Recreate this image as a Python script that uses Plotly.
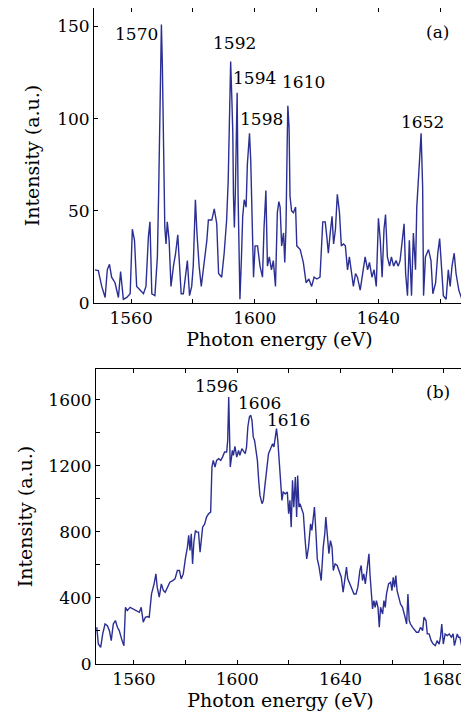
import plotly.graph_objects as go
from plotly.subplots import make_subplots

# ---------------- Panel (a) ----------------
energy_a = [1548.3, 1549.4, 1550.5, 1551.6, 1552.3, 1553.0, 1553.7, 1554.8, 1555.9, 1556.6,
            1557.5, 1558.6, 1559.7, 1560.4, 1561.1, 1561.8, 1562.9, 1564.0, 1564.8, 1565.6,
            1566.1, 1566.7, 1567.7, 1568.5, 1568.9, 1569.4, 1569.8, 1570.1, 1570.4, 1570.9,
            1571.3, 1571.7, 1572.3, 1572.9, 1573.7, 1574.4, 1575.1, 1575.6, 1576.2, 1576.9,
            1577.6, 1578.2, 1578.9, 1579.6, 1580.1, 1580.8, 1581.3, 1582.0, 1582.7, 1583.6,
            1584.5, 1585.0, 1586.1, 1586.9, 1587.7, 1588.3, 1589.3, 1590.1, 1590.9, 1591.4,
            1591.8, 1592.0, 1592.2, 1592.6, 1592.9, 1593.1, 1593.4, 1593.7, 1594.1, 1594.3,
            1594.6, 1594.9, 1595.2, 1595.7, 1596.1, 1596.6, 1597.2, 1597.6, 1597.9, 1598.3,
            1598.7, 1599.1, 1599.6, 1600.1, 1600.9, 1601.7, 1602.5, 1603.0, 1603.6, 1604.1,
            1604.7, 1605.4, 1606.0, 1606.7, 1607.3, 1607.8, 1608.2, 1608.7, 1609.3, 1609.7,
            1610.1, 1610.5, 1610.7, 1611.1, 1611.4, 1611.9, 1612.5, 1613.2, 1613.6, 1614.7,
            1615.7, 1616.6, 1617.5, 1618.4, 1619.2, 1620.1, 1621.1, 1622.0, 1622.8, 1623.3,
            1623.8, 1624.4, 1625.0, 1625.5, 1626.1, 1626.7, 1627.4, 1628.0, 1628.7, 1629.3,
            1630.0, 1630.6, 1631.3, 1631.9, 1632.6, 1633.2, 1634.1, 1634.9, 1635.7, 1636.5,
            1637.1, 1637.9, 1638.6, 1639.3, 1640.0, 1640.6, 1641.2, 1641.8, 1642.3, 1642.9,
            1643.6, 1644.2, 1644.9, 1645.7, 1646.4, 1647.0, 1647.7, 1648.3, 1648.8, 1649.4,
            1650.0, 1650.7, 1651.3, 1652.0, 1652.4, 1653.0, 1653.5, 1653.8, 1654.3, 1654.6,
            1655.2, 1656.2, 1657.0, 1657.6, 1658.5, 1659.2, 1659.8, 1660.4, 1661.0, 1661.9,
            1662.6, 1663.2, 1663.8, 1664.5, 1665.1, 1666.0, 1667.0, 1667.7]
intensity_a = [18, 17.6, 9, 3, 18, 21, 14, 11, 3, 17,
               2, 3, 5, 40, 34, 9, 7, 5, 9, 36,
               44, 5, 4, 25, 59, 120, 151, 130, 90, 41,
               32, 44, 34, 9, 20, 27, 37, 25, 5, 5,
               14, 23, 4, 9, 20, 56, 38, 20, 9, 20,
               34, 45, 45, 51, 43, 16, 14, 27, 45, 66,
               92, 119, 131, 110, 92, 59, 41, 59, 97, 114,
               59, 13, 2, 25, 47, 56, 52, 75, 86, 92,
               77, 45, 14, 31, 31, 20, 14, 41, 61, 20,
               25, 18, 23, 9, 49, 55, 52, 31, 38, 22,
               41, 88, 107, 95, 58, 50, 49, 52, 31, 29,
               22, 11, 13, 9, 14, 13, 14, 44, 44, 36,
               27, 38, 47, 32, 40, 59, 49, 31, 32, 31,
               18, 25, 16, 9, 16, 14, 7, 16, 25, 18,
               22, 14, 18, 9, 46, 34, 14, 40, 48, 25,
               20, 25, 20, 23, 20, 23, 36, 43, 16, 4,
               34, 4, 38, 18, 52, 68, 85, 92, 63, 4,
               25, 29, 23, 5, 11, 27, 35, 16, 4, 2,
               18, 9, 20, 27, 16, 7, 2, 1]

labels_a = ["1570", "1592", "1594", "1610", "1598", "1652", "(a)"]
label_x_a = [1561.8, 1593.4, 1599.9, 1615.7, 1602.1, 1654.2, 1659.1]
label_y_a = [146, 141, 122, 120, 100, 98, 147]

# ---------------- Panel (b) ----------------
energy_b = [1545.6, 1546.2, 1547.1, 1547.9, 1548.8, 1549.7, 1550.5, 1551.2, 1552.0, 1552.8,
            1553.6, 1554.3, 1555.2, 1556.1, 1556.7, 1557.4, 1558.5, 1559.8, 1561.0, 1562.1,
            1562.8, 1563.6, 1564.4, 1565.2, 1565.9, 1566.8, 1567.8, 1568.5, 1569.0, 1569.8,
            1570.6, 1571.4, 1572.1, 1572.9, 1573.9, 1575.0, 1575.9, 1576.8, 1577.6, 1578.3,
            1579.1, 1579.9, 1580.7, 1581.2, 1581.7, 1582.2, 1582.7, 1583.2, 1583.8, 1584.3,
            1585.0, 1585.6, 1586.1, 1586.6, 1587.4, 1588.1, 1588.9, 1589.7, 1590.2, 1590.7,
            1591.4, 1592.0, 1592.8, 1593.6, 1594.3, 1595.1, 1595.9, 1596.3, 1596.7, 1596.9,
            1597.3, 1597.7, 1598.1, 1598.5, 1599.1, 1599.8, 1600.5, 1601.0, 1601.8, 1602.6,
            1603.1, 1603.6, 1604.1, 1604.7, 1605.2, 1605.7, 1606.2, 1606.7, 1607.2, 1607.8,
            1608.3, 1608.8, 1609.6, 1610.1, 1610.8, 1611.4, 1612.1, 1612.9, 1613.7, 1614.2,
            1614.7, 1615.2, 1615.7, 1616.3, 1616.8, 1617.3, 1617.8, 1618.6, 1619.4, 1619.9,
            1620.4, 1620.9, 1621.4, 1621.9, 1622.5, 1623.0, 1623.4, 1623.9, 1624.3, 1624.8,
            1625.6, 1626.3, 1626.9, 1627.6, 1628.4, 1628.9, 1629.4, 1629.9, 1630.5, 1631.0,
            1631.7, 1632.5, 1633.3, 1633.9, 1634.3, 1634.8, 1635.5, 1636.1, 1636.7, 1637.2,
            1637.9, 1638.7, 1639.5, 1640.3, 1641.0, 1641.8, 1642.3, 1642.8, 1643.6, 1644.4,
            1645.2, 1646.0, 1646.7, 1647.5, 1648.0, 1648.5, 1649.0, 1649.6, 1650.1, 1650.6,
            1651.0, 1651.4, 1651.9, 1652.4, 1652.9, 1653.4, 1653.9, 1654.5, 1655.0, 1655.5,
            1656.3, 1656.8, 1657.3, 1657.8, 1658.6, 1659.4, 1659.9, 1660.4, 1660.9, 1661.4,
            1661.9, 1662.5, 1663.2, 1664.0, 1664.5, 1665.0, 1665.6, 1666.1, 1666.6, 1667.1,
            1667.9, 1668.7, 1669.4, 1670.2, 1671.0, 1671.8, 1672.3, 1673.1, 1673.6, 1674.3,
            1675.1, 1675.9, 1676.7, 1677.4, 1678.2, 1678.7, 1679.2, 1679.8, 1680.5, 1681.3,
            1682.1, 1682.9, 1683.6, 1684.1, 1684.6, 1685.2, 1685.7, 1686.2, 1686.9, 1687.7]
intensity_b = [222, 121, 101, 182, 242, 232, 202, 141, 242, 263,
               222, 202, 152, 111, 343, 323, 343, 333, 323, 313,
               343, 253, 283, 287, 283, 424, 485, 545, 465, 404,
               485, 444, 434, 465, 495, 505, 515, 566, 566, 515,
               545, 636, 707, 778, 687, 788, 606, 737, 808, 798,
               798, 677, 778, 828, 848, 889, 909, 919, 1192, 1232,
               1192, 1232, 1242, 1232, 1252, 1283, 1283, 1353, 1616, 1434,
               1192, 1242, 1293, 1263, 1317, 1252, 1293, 1263, 1303, 1283,
               1273, 1313, 1434, 1495, 1505, 1475, 1374, 1353, 1293, 1232,
               1111, 1020, 970, 990, 1091, 1192, 1273, 1303, 1333, 1313,
               1374, 1424, 1353, 1232, 1131, 990, 1040, 1030, 1040, 909,
               990, 828, 1111, 949, 1131, 889, 1141, 949, 970, 949,
               909, 747, 636, 707, 848, 808, 889, 949, 788, 636,
               586, 505, 707, 788, 889, 768, 667, 747, 707, 566,
               606, 596, 566, 525, 434, 545, 586, 515, 485, 444,
               424, 424, 465, 566, 596, 505, 545, 485, 545, 606,
               667, 545, 424, 333, 384, 343, 384, 343, 222, 343,
               303, 384, 343, 424, 485, 495, 444, 525, 465, 535,
               444, 414, 364, 343, 303, 283, 242, 424, 263, 242,
               222, 202, 192, 192, 222, 202, 283, 263, 182, 182,
               141, 121, 111, 141, 121, 162, 242, 121, 182, 172,
               182, 162, 182, 111, 141, 182, 162, 162, 111, 141]

labels_b = ["1596", "1606", "1616", "(b)"]
label_x_b = [1592.1, 1608.5, 1619.8, 1677.6]
label_y_b = [1681, 1580, 1475, 1646]

# ---------------- Axis ticks ----------------
xticks_a = [1560, 1580, 1600, 1620, 1640, 1660]
xticktext_a = ["1560", "", "1600", "", "1640", ""]
yticks_a = [0, 50, 100, 150]
xticks_b = [1560, 1580, 1600, 1620, 1640, 1660, 1680]
xticktext_b = ["1560", "", "1600", "", "1640", "", "1680"]
yticks_b = [0, 200, 400, 600, 800, 1000, 1200, 1400, 1600]
yticktext_b = ["0", "", "400", "", "800", "", "1200", "", "1600"]

FONT = "DejaVu Serif"
LINE_COLOR = "#2b2f93"
TICK_SIZE = 17
TITLE_SIZE = 19

fig = make_subplots(rows=2, cols=1, vertical_spacing=0.1)

fig.add_trace(go.Scatter(x=energy_a, y=intensity_a, mode="lines",
                         line=dict(color=LINE_COLOR, width=1.4),
                         showlegend=False), row=1, col=1)
fig.add_trace(go.Scatter(x=energy_b, y=intensity_b, mode="lines",
                         line=dict(color=LINE_COLOR, width=1.4),
                         showlegend=False), row=2, col=1)

for t, x, y in zip(labels_a, label_x_a, label_y_a):
    fig.add_annotation(x=x, y=y, xref="x", yref="y", text=t, showarrow=False,
                       font=dict(family=FONT, size=TICK_SIZE, color="black"))
for t, x, y in zip(labels_b, label_x_b, label_y_b):
    fig.add_annotation(x=x, y=y, xref="x2", yref="y2", text=t, showarrow=False,
                       font=dict(family=FONT, size=TICK_SIZE, color="black"))

axis_common = dict(showline=True, linecolor="black", linewidth=1, mirror="ticks",
                   ticks="inside", ticklen=4, tickcolor="black", showgrid=False,
                   zeroline=False, automargin=False,
                   tickfont=dict(family=FONT, size=TICK_SIZE, color="black"))

fig.update_xaxes(**axis_common)
fig.update_yaxes(**axis_common)

title_font = dict(family=FONT, size=TITLE_SIZE, color="black")

fig.update_xaxes(range=[1548, 1668], tickvals=xticks_a, ticktext=xticktext_a,
                 domain=[0, 1],
                 title=dict(text="Photon energy (eV)", standoff=4, font=title_font),
                 row=1, col=1)
fig.update_yaxes(range=[0, 160], tickvals=yticks_a,
                 domain=[0.5503, 1],
                 title=dict(text="Intensity (a.u.)", standoff=12, font=title_font),
                 row=1, col=1)
fig.update_xaxes(range=[1545.3, 1688.2], tickvals=xticks_b, ticktext=xticktext_b,
                 domain=[0.0054, 1],
                 title=dict(text="Photon energy (eV)", standoff=4, font=title_font),
                 row=2, col=1)
fig.update_yaxes(range=[0, 1785], tickvals=yticks_b, ticktext=yticktext_b,
                 domain=[0, 0.4497],
                 title=dict(text="Intensity (a.u.)", standoff=10, font=title_font),
                 row=2, col=1)

# the page adds an 8 px body margin, so the figure is sized/offset to compensate
fig.update_layout(width=461, height=715,
                  margin=dict(l=86, r=4, t=0, b=59),
                  paper_bgcolor="white", plot_bgcolor="white",
                  font=dict(family=FONT, size=TICK_SIZE, color="black"))

fig.write_html("out.html")
